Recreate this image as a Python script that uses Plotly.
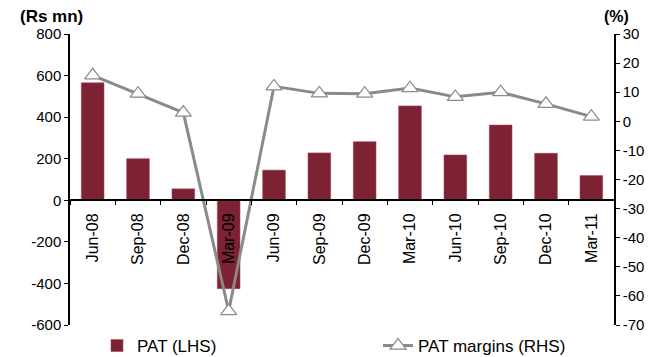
import plotly.graph_objects as go

categories = ["Jun-08", "Sep-08", "Dec-08", "Mar-09", "Jun-09", "Sep-09",
              "Dec-09", "Mar-10", "Jun-10", "Sep-10", "Dec-10", "Mar-11"]
pat = [565, 200, 55, -425, 145, 228, 282, 454, 218, 362, 226, 119]
pat_margin = [15.8, 9.5, 3.0, -65.2, 12.0, 9.6, 9.5, 11.4, 8.4, 10.0, 6.0, 1.6]

left_ticks = list(range(-600, 801, 200))
right_ticks = list(range(-70, 31, 10))

FONT = "Liberation Sans, Arial, sans-serif"
TICK = 15

# page is rendered with an 8px body margin; figure laid out accordingly
W, H = 658, 349
L, R, T, B = 62, 52, 26, 32
PW = W - L - R
PH = H - T - B

fig = go.Figure()
fig.add_trace(go.Bar(
    x=categories, y=pat, name="PAT (LHS)",
    marker=dict(color="#7d2232", line=dict(color="#a04a58", width=0.6)),
    width=0.5, yaxis="y", legend="legend",
))
fig.add_trace(go.Scatter(
    x=categories, y=pat_margin, name="PAT margins (RHS)", yaxis="y2",
    mode="lines+markers", legend="legend2",
    line=dict(color="#8a8a8a", width=3),
    marker=dict(symbol="triangle-up", size=14, color="white",
                line=dict(color="#8a8a8a", width=1.2)),
))

leg_y = -(338 - (T + PH)) / PH
leg_common = dict(orientation="h", yanchor="middle", y=leg_y, xanchor="left",
                  font=dict(size=17, family=FONT), bgcolor="rgba(0,0,0,0)")

title_y = 1 + (T - 9) / PH

fig.update_layout(
    width=W, height=H,
    margin=dict(l=L, r=R, t=T, b=B, autoexpand=False),
    paper_bgcolor="white", plot_bgcolor="white",
    font=dict(family=FONT, size=TICK, color="black"),
    showlegend=True,
    legend=dict(x=(89 - L) / PW, **leg_common),
    legend2=dict(x=(370 - L) / PW, **leg_common),
    xaxis=dict(
        type="category", anchor="free", position=600 / 1400,
        showline=True, linecolor="black", linewidth=1.5,
        ticks="outside", ticklen=4, tickcolor="black", tickson="boundaries",
        tickangle=-90, showgrid=False, zeroline=False, ticklabelstandoff=6,
        tickfont=dict(size=16, family=FONT),
        range=[-0.5, len(categories) - 0.5],
    ),
    yaxis=dict(
        range=[-600, 800], tickvals=left_ticks, ticktext=[str(v) for v in left_ticks],
        showline=True, linecolor="black", linewidth=1.5,
        ticks="outside", ticklen=4, tickcolor="black",
        showgrid=False, zeroline=False, tickfont=dict(size=TICK, family=FONT),
    ),
    yaxis2=dict(
        range=[-70, 30], tickvals=right_ticks, ticktext=[str(v) for v in right_ticks],
        overlaying="y", side="right",
        showline=True, linecolor="black", linewidth=1.5,
        ticks="outside", ticklen=4, tickcolor="black",
        showgrid=False, zeroline=False, tickfont=dict(size=TICK, family=FONT),
    ),
    annotations=[
        dict(text="<b>(Rs mn)</b>", xref="paper", yref="paper", x=(43 - L) / PW, y=title_y,
             xanchor="center", yanchor="middle", showarrow=False,
             font=dict(size=17, family=FONT)),
        dict(text="<b>(%)</b>", xref="paper", yref="paper", x=(608 - L) / PW, y=title_y,
             xanchor="center", yanchor="middle", showarrow=False,
             font=dict(size=16, family=FONT)),
    ],
)

fig.write_html("out.html")
